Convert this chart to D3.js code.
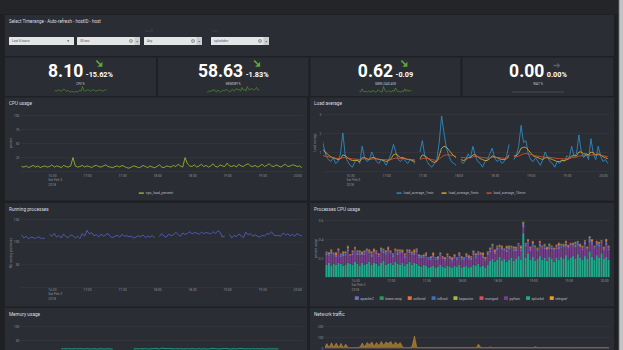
<!DOCTYPE html>
<html><head><meta charset="utf-8">
<script src="https://cdn.jsdelivr.net/npm/d3@7/dist/d3.min.js"></script>
<style>
html,body{margin:0;padding:0;background:#1e2024;overflow:hidden}
svg{display:block;font-family:Roboto,"Noto Sans",sans-serif}
</style></head><body>
<svg id="chart" width="623" height="350"></svg>
<script>
// ================= DATA =================
const templateTitle = "Select Timerange - Auto-refresh - hostID - host";
const dropdownLabels = ["", "", "hostID", "host"];
const dropdownValues = ["Last 6 hours", "30 sec", "Any", "splunkdev"];

const statNames  = ["CPU %", "MEMORY %", "5MIN LOAD AVG", "WAIT %"];
const statValues = ["8.10", "58.63", "0.62", "0.00"];
const statDeltas = ["-15.62%", "-1.83%", "-0.09", "0.00%"];
const statTrend  = ["down", "down", "down", "flat"];
const sparkCpu  = [8,9,8,10,9,8,9,11,9,8,9,8,7,8,7,7,8,7,8,9,8,14,9,8,9,10,9,8,9,10,9,8,9,9,10,9,8,9,10,9];
const sparkMem  = [57,58,57,59,58,60,58,57,59,58,57,58,59,58,60,59,58,57,59,60,58,59,61,59,60,58,62,59,60,58,63,60,59,61,60,59,60,62,59,60];
const sparkLoad = [0.9,0.6,1.9,0.7,0.6,0.8,0.5,1.0,0.6,0.5,1.3,0.6,0.5,0.7,1.5,0.9,0.6,0.5,2.9,1.2,0.7,0.6,1.1,0.6,0.5,1.3,0.7,2.3,1.0,0.6,0.8,0.5,1.0,0.6,1.9,0.8,1.5,0.7,1.3,0.8];
const sparkWait = [0,0,0,0,0,0,0,0,0,0,0,0,0,0,0,0,0,0,0,0,0,0,0,0,0,0,0,0,0,0,0,0,0,0,0,0,0,0,0,0];

const startTime = new Date(2018, 1, 3, 16, 4);
const stepMinutes = 2;
const xTickFormat = "%H:%M";
const dateLines = ["Sat Feb 3", "2018"];

const cpuLoadPercent = [
 8,7,9,6,8,10,7,9,6,8, 9,7,8,11,7,9,8,6,10,8, 7,9,24,9,7,8,10,7,9,8, 6,9,10,8,7,9,11,8,7,6,
 8,9,7,10,8,6,5,7,9,8, 6,7,10,8,6,9,7,6,8,11, 7,6,9,8,7,10,8,12,9,7, 24,13,9,8,11,7,9,12,8,10,
 7,9,13,8,7,11,9,8,14,9, 8,10,7,12,9,8,11,13,9,8, 10,7,9,12,8,10,13,9,8,11, 9,7,10,12,8,9,11,10,8,9, 6];

const loadAvg1 = [
 1.2,1.9,1.3,0.8,0.6,0.5,0.7,0.4,0.5,0.9, 2.0,0.8,0.5,0.3,0.2,0.5,0.6,0.4,1.3,0.7,
 0.5,0.6,1.0,0.7,0.5,0.4,0.6,0.5,0.3,0.6, 0.9,1.4,1.0,0.6,0.5,0.7,0.5,0.4,0.6,0.5,
 0.4,null,1.0,1.6,0.8,0.5,0.3,0.2,0.4,0.6, 1.5,2.9,2.0,1.2,0.8,0.5,0.4,0.3,null,0.5,
 0.4,0.6,0.9,0.7,1.3,0.8,0.5,0.4,0.2,0.5, 0.6,0.9,1.2,0.7,0.5,0.6,0.4,0.5,0.8,1.4,
 null,0.6,0.8,1.3,2.4,1.5,1.6,0.9,0.6,0.5, 0.7,0.5,0.3,0.6,1.0,0.7,0.5,0.4,0.2,0.5,
 0.4,0.6,0.5,0.8,0.7,1.3,0.8,0.9,1.9,1.0, 0.7,0.9,0.6,1.7,0.9,0.6,1.3,0.8,0.5,0.6, 0.4];
const loadAvg5 = [
 1.1,1.2,1.1,0.95,0.85,0.75,0.7,0.65,0.6,0.65, 0.85,0.8,0.7,0.6,0.55,0.55,0.55,0.5,0.7,0.7,
 0.65,0.6,0.7,0.7,0.65,0.6,0.6,0.55,0.5,0.55, 0.65,0.85,0.9,0.8,0.7,0.7,0.65,0.6,0.6,0.55,
 0.5,null,0.65,0.85,0.8,0.7,0.6,0.5,0.45,0.5, 0.8,1.2,1.3,1.25,1.1,0.95,0.8,0.7,null,0.6,
 0.55,0.6,0.7,0.7,0.85,0.85,0.75,0.65,0.6,0.55, 0.55,0.65,0.8,0.75,0.7,0.65,0.6,0.6,0.65,0.85,
 null,0.8,0.8,0.95,1.2,1.25,1.25,1.1,0.95,0.8, 0.75,0.7,0.65,0.6,0.7,0.7,0.65,0.6,0.55,0.5,
 0.5,0.55,0.55,0.6,0.65,0.8,0.8,0.8,1.0,1.0, 0.9,0.9,0.85,1.0,0.95,0.85,0.9,0.85,0.75,0.7, 0.65];
const loadAvg15 = [
 0.75,0.78,0.8,0.78,0.75,0.72,0.7,0.68,0.66,0.65, 0.7,0.7,0.68,0.66,0.64,0.62,0.62,0.6,0.63,0.64,
 0.63,0.62,0.63,0.64,0.63,0.62,0.61,0.6,0.59,0.58, 0.6,0.65,0.68,0.68,0.66,0.65,0.64,0.62,0.61,0.6,
 0.58,null,0.6,0.66,0.67,0.66,0.64,0.6,0.57,0.56, 0.62,0.75,0.82,0.85,0.85,0.83,0.8,0.77,null,0.72,
 0.7,0.69,0.7,0.7,0.74,0.76,0.75,0.73,0.71,0.69, 0.68,0.69,0.72,0.72,0.71,0.7,0.68,0.67,0.67,0.72,
 null,0.75,0.75,0.78,0.85,0.9,0.92,0.9,0.87,0.83, 0.8,0.78,0.76,0.73,0.73,0.73,0.72,0.7,0.68,0.66,
 0.65,0.64,0.64,0.65,0.66,0.7,0.72,0.73,0.78,0.8, 0.8,0.81,0.81,0.84,0.85,0.84,0.84,0.83,0.8,0.78, 0.76];

const runningProcs = [
 115,108,112,106,110,109,107,111,108,107, 108,null,116,112,118,110,114,108,117,111,
 109,115,113,108,112,107,118,112,125,117, 120,113,116,110,117,112,115,118,111,109,
 112,114,110,116,112,113,111,112,108,110, 113,111,115,109,112,110,114,108,null,111,
 118,112,110,117,113,115,121,116,112,119, 116,118,122,117,120,119,116,121,118,120,
 119,117,122,118,124,121,110,113,null,116, 108,114,111,117,113,109,121,115,118,112,
 115,112,110,114,112,118,116,122,115,113, 114,112,119,115,117,113,116,112,118,114, 113];

const procNames = ["apache2","beam.smp","collectd","influxd","kapacitor","mongod","python","splunkd","telegraf"];
const procSplunkd = [
 .14,.13,.15,.12,.14,.13,.15,.14,.12,.13, .15,.14,.13,.16,.14,.12,.15,.13,.14,.16,
 .13,.15,.14,.12,.15,.17,.13,.14,.15,.13, .16,.14,.13,.15,.12,.14,.16,.13,.15,.14,
 .12,.11,.13,.12,.10,.11,.12,.10,.11,.13, .11,.10,.12,.11,.10,.12,.11,.13,.10,.11,
 .12,.10,.11,.13,.12,.14,.11,.12,.10,.13, .17,.19,.16,.18,.21,.17,.19,.16,.18,.20,
 .17,.19,.22,.18,.46,.20,.25,.18,.21,.17, .19,.22,.18,.20,.17,.21,.19,.16,.20,.18,
 .21,.19,.23,.18,.20,.22,.19,.24,.20,.18, .22,.19,.27,.21,.18,.23,.20,.25,.19,.21, .18];
const procPython = [
 .08,.10,.07,.12,.09,.08,.11,.07,.10,.09, .12,.08,.10,.13,.09,.11,.08,.10,.12,.09,
 .08,.11,.10,.09,.12,.08,.10,.13,.09,.08, .11,.09,.12,.10,.08,.11,.09,.10,.08,.12,
 .08,.09,.07,.10,.08,.07,.09,.08,.07,.09, .08,.07,.09,.08,.06,.08,.07,.09,.08,.07,
 .09,.08,.07,.10,.08,.09,.12,.08,.07,.10, .09,.11,.08,.10,.09,.12,.08,.10,.11,.09,
 .10,.08,.11,.09,.06,.12,.10,.09,.11,.13, .08,.10,.12,.09,.11,.08,.10,.12,.09,.11,
 .10,.12,.09,.11,.13,.10,.12,.09,.11,.10, .12,.10,.09,.13,.11,.10,.12,.11,.09,.12, .10];
const procApache2 = [
 .01,.02,.01,.03,.01,.02,.01,.02,.03,.01,.02,.01,.02,.01,.03,.02,.01,.02,.01,.02,
 .03,.01,.02,.01,.02,.03,.01,.02,.01,.02,.01,.03,.02,.01,.02,.01,.02,.01,.03,.02,
 .01,.02,.01,.02,.01,.01,.02,.01,.02,.01,.02,.01,.01,.02,.01,.02,.01,.02,.01,.01,
 .02,.01,.02,.03,.01,.02,.01,.02,.01,.03,.02,.01,.02,.03,.01,.02,.01,.03,.02,.01,
 .02,.03,.01,.02,.04,.02,.01,.03,.02,.01,.02,.03,.01,.02,.01,.03,.02,.01,.02,.03,
 .01,.02,.03,.01,.02,.01,.03,.02,.01,.02,.03,.01,.04,.02,.01,.03,.02,.01,.02,.03, .02];
const procCollectd = [
 .01,.00,.01,.01,.00,.02,.01,.00,.01,.01,.02,.00,.01,.01,.00,.01,.02,.01,.00,.01,
 .01,.02,.00,.01,.01,.00,.01,.02,.01,.00,.01,.01,.00,.02,.01,.00,.01,.01,.02,.00,
 .01,.00,.01,.01,.00,.01,.02,.00,.01,.01,.00,.01,.01,.00,.02,.01,.00,.01,.01,.00,
 .01,.02,.00,.01,.01,.00,.01,.02,.01,.00,.01,.01,.02,.00,.01,.01,.00,.02,.01,.00,
 .01,.01,.00,.02,.01,.00,.01,.01,.02,.00,.01,.01,.00,.01,.02,.01,.00,.01,.01,.02,
 .00,.01,.01,.02,.00,.01,.01,.00,.02,.01,.00,.01,.01,.02,.00,.01,.01,.00,.01,.02, .01];
const procInfluxd = [
 .00,.01,.01,.00,.01,.00,.01,.01,.00,.02,.01,.00,.01,.00,.01,.01,.00,.01,.02,.00,
 .01,.00,.01,.01,.00,.01,.02,.00,.01,.01,.00,.01,.01,.00,.01,.02,.00,.01,.00,.01,
 .01,.00,.01,.00,.01,.01,.00,.01,.00,.01,.00,.01,.01,.00,.01,.00,.01,.00,.01,.01,
 .00,.01,.01,.00,.02,.01,.00,.01,.01,.00,.01,.02,.00,.01,.01,.00,.01,.01,.00,.02,
 .01,.00,.01,.01,.00,.01,.02,.00,.01,.01,.00,.01,.01,.02,.00,.01,.01,.00,.01,.01,
 .02,.00,.01,.01,.00,.01,.01,.02,.00,.01,.01,.00,.01,.01,.02,.00,.01,.01,.00,.01, .01];
const procTelegraf = [
 .005,.004,.006,.005,.004,.005,.006,.004,.005,.005,.004,.006,.005,.004,.005,.006,.005,.004,.005,.006,
 .005,.004,.006,.005,.004,.005,.006,.004,.005,.005,.004,.006,.005,.004,.005,.006,.005,.004,.005,.006,
 .004,.005,.004,.005,.004,.004,.005,.004,.005,.004,.005,.004,.004,.005,.004,.005,.004,.005,.004,.004,
 .005,.006,.005,.004,.005,.006,.005,.004,.006,.005,.005,.004,.006,.005,.004,.005,.006,.004,.005,.005,
 .006,.005,.004,.005,.006,.005,.004,.006,.005,.005,.004,.006,.005,.004,.005,.006,.005,.004,.005,.006,
 .005,.004,.006,.005,.004,.005,.006,.004,.005,.005,.004,.006,.005,.004,.005,.006,.005,.004,.005,.006, .005];
const procBeamSmp = [
 .002,.002,.001,.002,.002,.001,.002,.002,.001,.002,.002,.001,.002,.002,.001,.002,.002,.001,.002,.002,
 .001,.002,.002,.001,.002,.002,.001,.002,.002,.001,.002,.002,.001,.002,.002,.001,.002,.002,.001,.002,
 .002,.001,.002,.002,.001,.002,.002,.001,.002,.002,.001,.002,.002,.001,.002,.002,.001,.002,.002,.001,
 .002,.002,.001,.002,.002,.001,.002,.002,.001,.002,.002,.001,.002,.002,.001,.002,.002,.001,.002,.002,
 .001,.002,.002,.001,.002,.002,.001,.002,.002,.001,.002,.002,.001,.002,.002,.001,.002,.002,.001,.002,
 .002,.001,.002,.002,.001,.002,.002,.001,.002,.002,.001,.002,.002,.001,.002,.002,.001,.002,.002,.001, .002];
const procKapacitor = [
 .001,.001,.002,.001,.001,.002,.001,.001,.002,.001,.001,.002,.001,.001,.002,.001,.001,.002,.001,.001,
 .002,.001,.001,.002,.001,.001,.002,.001,.001,.002,.001,.001,.002,.001,.001,.002,.001,.001,.002,.001,
 .001,.002,.001,.001,.002,.001,.001,.002,.001,.001,.002,.001,.001,.002,.001,.001,.002,.001,.001,.002,
 .001,.001,.002,.001,.001,.002,.001,.001,.002,.001,.001,.002,.001,.001,.002,.001,.001,.002,.001,.001,
 .002,.001,.001,.002,.001,.001,.002,.001,.001,.002,.001,.001,.002,.001,.001,.002,.001,.001,.002,.001,
 .001,.002,.001,.001,.002,.001,.001,.002,.001,.001,.002,.001,.001,.002,.001,.001,.002,.001,.001,.002, .001];
const procMongod = [
 .003,.002,.003,.003,.002,.003,.003,.002,.003,.003,.002,.003,.003,.002,.003,.003,.002,.003,.003,.002,
 .003,.003,.002,.003,.003,.002,.003,.003,.002,.003,.003,.002,.003,.003,.002,.003,.003,.002,.003,.003,
 .002,.003,.003,.002,.003,.003,.002,.003,.003,.002,.003,.003,.002,.003,.003,.002,.003,.003,.002,.003,
 .003,.002,.003,.003,.002,.003,.003,.002,.003,.003,.002,.003,.003,.002,.003,.003,.002,.003,.003,.002,
 .003,.003,.002,.003,.003,.002,.003,.003,.002,.003,.003,.002,.003,.003,.002,.003,.003,.002,.003,.003,
 .002,.003,.003,.002,.003,.003,.002,.003,.003,.002,.003,.003,.002,.003,.003,.002,.003,.003,.002,.003, .003];

const memUsed = [
 18,null,null,null,null,null,null,null,null,null, null,null,null,null,null,null,null,18,19,18,
 19,18,18,19,18,19,18,18,19,18, 18,19,18,18,19,18,18,19,18,18, null,null,null,null,null,null,null,null,18,19,
 18,19,18,19,18,18,19,20,19,18, 21,20,19,20,19,18,19,18,19,18, 18,19,18,19,18,18,19,18,19,18,
 18,19,20,19,18,18,19,20,19,18, 18,19,18,19,20,19,18,19,18,19, 18,19,18,19,18,18,19,18,19,18, 18];
const netIn = [
 2,40,5,48,6,45,4,42,3,35, 2,1,2,2,3,10,45,8,50,30, 55,15,50,20,60,25,55,40,60,20,
 55,30,50,10,3,2,2,15,110,5, 3,2,3,2,2,3,2,2,3,2,2,3,2,2,3,2,2,2,3,2,
 3,2,2,3,2,35,5,2,2,3,10,3,2,2,3,2,2,3,2,2, 3,2,2,3,2,2,3,2,2,12,2,2,3,2,2,3,2,2,3,2,
 2,3,2,2,3,2,2,3,2,2,3,2,2,3,2,2,3,2,2,3, 2];
const netOut = [
 1,2,1,2,1,2,1,2,1,2,1,2,1,2,1,2,1,2,1,2, 2,1,2,1,2,1,2,1,2,1,2,1,2,1,2,1,2,1,3,1,
 1,2,1,2,1,2,1,2,1,2,1,2,1,2,1,2,1,2,1,2, 2,1,2,1,2,2,1,2,1,2,1,2,1,2,1,2,1,2,1,2,
 1,2,1,2,1,2,1,2,1,2,1,2,1,2,1,2,1,2,1,2, 2,1,2,1,2,1,2,1,2,1,2,1,2,1,2,1,2,1,2,1, 1];

// ================= STYLE =================
const COL = {
  bg: "#1e2024", top: "#232529", panel: "#2a2d34", title: "#dcdde0",
  tick: "#8d9096", grid: "#3a3d45", legend: "#b9bbbf"
};
const FONT = 'Roboto, "Noto Sans", sans-serif';
const procColors = {apache2:"#7d6bbd","beam.smp":"#2f9a57",collectd:"#e8743b",influxd:"#3c6fbe",
  kapacitor:"#a5c23a",mongod:"#d94f5c",python:"#7a3f8c",splunkd:"#22a98c",telegraf:"#f0a020"};
const procSeries = {apache2:procApache2,"beam.smp":procBeamSmp,collectd:procCollectd,influxd:procInfluxd,
  kapacitor:procKapacitor,mongod:procMongod,python:procPython,splunkd:procSplunkd,telegraf:procTelegraf};
const stackOrder = ["splunkd","python","apache2","influxd","collectd","telegraf","beam.smp","kapacitor","mongod"];

const svg = d3.select("#chart");
const times = cpuLoadPercent.map((_, i) => d3.timeMinute.offset(startTime, i * stepMinutes));
const series = arr => arr.map((v, i) => ({t: times[i], v}));
const at = (h, m, s) => new Date(2018, 1, 3, h, m, s || 0);

// ================= BACKGROUND =================
svg.append("rect").attr("width", 623).attr("height", 350).attr("fill", COL.bg);
svg.append("rect").attr("width", 623).attr("height", 14).attr("fill", COL.top);
svg.append("rect").attr("x", 619).attr("width", 4).attr("height", 350).attr("fill", "#c2c3c5");
svg.append("rect").attr("x", 618.6).attr("width", 0.8).attr("height", 350).attr("fill", "#6f7176");

function panel(x, y, w, h, title) {
  svg.append("rect").attr("x", x).attr("y", y).attr("width", w).attr("height", h).attr("fill", COL.panel);
  if (title) svg.append("text").attr("x", x + 4).attr("y", y + 7.5).attr("font-size", 4.7)
    .attr("font-family", FONT).attr("fill", COL.title).text(title);
}

// ================= TEMPLATE ROW =================
panel(5, 15, 609, 41, null);
svg.append("text").attr("x", 9).attr("y", 23).attr("font-size", 4.5).attr("font-family", FONT)
  .attr("fill", COL.title).text(templateTitle);
const ddBoxes = [[9, 74], [77, 140], [144, 202], [211, 269]];
ddBoxes.forEach(([a, b], i) => {
  if (dropdownLabels[i]) svg.append("text").attr("x", a + 1).attr("y", 32).attr("font-size", 2.8)
    .attr("font-family", FONT).attr("fill", "#444851").text(dropdownLabels[i]);
  svg.append("rect").attr("x", a).attr("y", 37).attr("width", b - a).attr("height", 8)
    .attr("fill", "#e4e5e7").attr("rx", 0.6);
  svg.append("text").attr("x", a + 3).attr("y", 42.2).attr("font-size", 3.2).attr("font-family", FONT)
    .attr("fill", "#50535a").text(dropdownValues[i]);
  if (i === 0) {
    svg.append("path").attr("d", `M${b-7},40.3 l2.4,0 l-1.2,1.6z`).attr("fill", "#666");
  } else {
    svg.append("rect").attr("x", b - 5.5).attr("y", 37).attr("width", 5.5).attr("height", 8).attr("fill", "#cdced1");
    svg.append("path").attr("d", `M${b-3.9},41 l2.2,0 l-1.1,1.4z`).attr("fill", "#777");
    svg.append("circle").attr("cx", b - 9).attr("cy", 41).attr("r", 1.6).attr("fill", "none")
      .attr("stroke", "#777").attr("stroke-width", 0.6);
    svg.append("path").attr("d", `M${b-9.7},40.3 l1.4,1.4 M${b-8.3},40.3 l-1.4,1.4`)
      .attr("stroke", "#777").attr("stroke-width", 0.5);
  }
});

// ================= STAT ROW =================
const statBoxes = [[5, 156], [158, 308.5], [310.5, 460.5], [462.5, 613.5]];
const sparks = [sparkCpu, sparkMem, sparkLoad, sparkWait];
statBoxes.forEach(([x0, x1], i) => {
  panel(x0, 57.5, x1 - x0, 38.5, null);
  const cx = (x0 + x1) / 2;
  const big = svg.append("text").attr("y", 77).attr("font-size", 17.5).attr("font-weight", 700)
    .attr("font-family", FONT).attr("fill", "#ffffff").text(statValues[i]);
  const dl = svg.append("text").attr("y", 76.5).attr("font-size", 7.3).attr("font-weight", 700)
    .attr("font-family", FONT).attr("fill", "#ffffff").text(statDeltas[i]);
  const bw = big.node().getComputedTextLength(), dw = dl.node().getComputedTextLength();
  const gap = 2.5, start = cx - (bw + gap + dw) / 2;
  big.attr("x", start);
  dl.attr("x", start + bw + gap);
  const ax = start + bw + gap + dw / 2;
  if (statTrend[i] === "down") {
    svg.append("path").attr("d", `M${ax-3},60.6 L${ax+1.2},64.8`).attr("stroke", "#5da934").attr("stroke-width", 1.6);
    svg.append("path").attr("d", `M${ax+3},66.8 L${ax+3},61.8 L${ax-2},66.8 Z`).attr("fill", "#5da934");
  } else {
    svg.append("path").attr("d", `M${ax-3.5},65.5 L${ax+1},65.5`).attr("stroke", "#5a5e66").attr("stroke-width", 1.4);
    svg.append("path").attr("d", `M${ax+3.5},65.5 L${ax+0.5},62.8 L${ax+0.5},68.2 Z`).attr("fill", "#5a5e66");
  }
  svg.append("text").attr("x", cx).attr("y", 84.6).attr("text-anchor", "middle").attr("font-size", 2.9)
    .attr("font-family", FONT).attr("fill", "#c5c7cb").text(statNames[i]);
  const arr = sparks[i];
  const sx = d3.scaleLinear().domain([0, arr.length - 1]).range([cx - 26, cx + 26]);
  const ext = d3.extent(arr);
  const sy = d3.scaleLinear().domain(ext[0] === ext[1] ? [ext[0], ext[0] + 1] : ext).range([92, 86.5]);
  svg.append("path").datum(arr).attr("fill", "none")
    .attr("stroke", statTrend[i] === "flat" ? "#5f6369" : "#55a02e").attr("stroke-width", 0.6)
    .attr("d", d3.line().x((d, j) => sx(j)).y(d => sy(d)));
});

// ================= TIME CHART HELPER =================
let clipN = 0;
function timeChart(o) {
  const x = d3.scaleTime().domain(o.xDomain).range(o.xRange);
  const y = d3.scaleLinear().domain(o.yDomain).range(o.yRange);
  const g = svg.append("g");
  const ya = g.append("g").attr("transform", `translate(${o.xRange[0]},0)`)
    .call(d3.axisLeft(y).tickValues(o.yTicks).tickSize(-(o.xRange[1] - o.xRange[0])).tickPadding(1.6)
      .tickFormat(o.yFormat));
  ya.select(".domain").remove();
  ya.selectAll("line").attr("stroke", COL.grid).attr("stroke-width", 0.5);
  ya.selectAll("text").attr("fill", COL.tick).attr("font-size", 3.3).attr("font-family", FONT);
  if (o.xAxisY != null) {
    const xa = g.append("g").attr("transform", `translate(0,${o.xAxisY})`)
      .call(d3.axisBottom(x).ticks(d3.timeMinute.every(30)).tickSize(0).tickPadding(0)
        .tickFormat(d3.timeFormat(xTickFormat)));
    xa.select(".domain").remove();
    xa.selectAll("text").attr("fill", COL.tick).attr("font-size", 3.3).attr("font-family", FONT);
    const first = xa.select(".tick text");
    const hw = first.node().getComputedTextLength() / 2;
    dateLines.forEach((s, k) => {
      first.append("tspan").attr("x", -hw).attr("text-anchor", "start")
        .attr("dy", "1.4em").text(s);
    });
  }
  if (o.yLabel) {
    g.append("text").attr("transform", `translate(${o.yLabelX},${(o.yRange[0] + o.yRange[1]) / 2}) rotate(-90)`)
      .attr("text-anchor", "middle").attr("font-size", 3.1).attr("font-family", FONT)
      .attr("fill", COL.tick).text(o.yLabel);
  }
  const id = "clip" + (clipN++);
  svg.append("clipPath").attr("id", id).append("rect").attr("x", o.xRange[0]).attr("y", o.yRange[1] - 6)
    .attr("width", o.xRange[1] - o.xRange[0]).attr("height", o.yRange[0] - o.yRange[1] + 6.5);
  const plot = g.append("g").attr("clip-path", `url(#${id})`);
  return {x, y, plot};
}
function drawLine(c, arr, color, w) {
  c.plot.append("path").datum(series(arr)).attr("fill", "none").attr("stroke", color)
    .attr("stroke-width", w || 0.7).attr("stroke-linejoin", "round")
    .attr("d", d3.line().defined(d => d.v != null).x(d => c.x(d.t)).y(d => c.y(d.v)));
}
function lineLegend(items, cx, y) {
  const g = svg.append("g");
  let xx = 0;
  items.forEach(([name, color]) => {
    g.append("line").attr("x1", xx).attr("x2", xx + 5).attr("y1", y - 1.2).attr("y2", y - 1.2)
      .attr("stroke", color).attr("stroke-width", 1.3);
    const t = g.append("text").attr("x", xx + 7).attr("y", y).attr("font-size", 3.5).attr("font-family", FONT)
      .attr("fill", COL.legend).text(name);
    xx += 7 + t.node().getComputedTextLength() + 8;
  });
  g.attr("transform", `translate(${cx - (xx - 8) / 2},0)`);
}

// ================= CPU USAGE =================
panel(5, 97.5, 302, 103, "CPU usage");
const cpuC = timeChart({xDomain: [at(16, 3, 30), at(20, 5)], xRange: [21, 303], yDomain: [0, 100],
  yRange: [171, 115], yTicks: [0, 25, 50, 75, 100], yFormat: d => d === 0 ? "" : d, xAxisY: 174.5,
  yLabel: "percent", yLabelX: 11.5});
drawLine(cpuC, cpuLoadPercent, "#a4c234", 0.8);
lineLegend([["cpu_load_percent", "#a4c234"]], 156, 194.3);

// ================= LOAD AVERAGE =================
panel(310, 97.5, 304, 103, "Load average");
const loadC = timeChart({xDomain: [at(16, 7, 30), at(20, 5)], xRange: [323, 609], yDomain: [0, 3],
  yRange: [171, 114], yTicks: [0, 1, 2, 3], yFormat: d => d === 0 ? "" : d, xAxisY: 174.3,
  yLabel: "Load average", yLabelX: 316});
drawLine(loadC, loadAvg1, "#2f95d6", 0.8);
drawLine(loadC, loadAvg5, "#e8b82a", 0.8);
drawLine(loadC, loadAvg15, "#e2572f", 0.8);
lineLegend([["load_average_1min", "#2f95d6"], ["load_average_5min", "#e8b82a"], ["load_average_15min", "#e2572f"]], 461, 194.3);

// ================= RUNNING PROCESSES =================
panel(5, 203, 302, 103.5, "Running processes");
const runC = timeChart({xDomain: [at(16, 3, 30), at(20, 5)], xRange: [21, 303], yDomain: [0, 150],
  yRange: [287, 219], yTicks: [0, 50, 100, 150], yFormat: d => d === 0 ? "" : d, xAxisY: 288.3,
  yLabel: "Nb running processes", yLabelX: 11.5});
drawLine(runC, runningProcs, "#5865c8", 0.8);

// ================= PROCESSES CPU USAGE =================
panel(310, 203, 304, 103.5, "Processes CPU usage");
const procC = timeChart({xDomain: [at(16, 4, 30), at(20, 5)], xRange: [325, 610], yDomain: [0, 0.6],
  yRange: [277, 220], yTicks: [0, 0.2, 0.4, 0.6], yFormat: d => d === 0 ? "" : d3.format(".1f")(d),
  xAxisY: 279.3, yLabel: "percent usage", yLabelX: 316.5});
const procTable = times.map((t, i) => {
  const r = {t};
  procNames.forEach(k => r[k] = procSeries[k][i]);
  return r;
});
const stacked = d3.stack().keys(stackOrder)(procTable);
const bw = procC.x(times[1]) - procC.x(times[0]);
procC.plot.selectAll("g.layer").data(stacked).join("g").attr("class", "layer")
  .attr("fill", d => procColors[d.key])
  .selectAll("rect").data(d => d).join("rect")
  .attr("x", d => procC.x(d.data.t) - bw / 2).attr("width", bw * 0.82)
  .attr("y", d => procC.y(d[1])).attr("height", d => Math.max(0, procC.y(d[0]) - procC.y(d[1])));
(function () {
  const g = svg.append("g");
  let xx = 0;
  procNames.forEach(name => {
    g.append("rect").attr("x", xx).attr("y", 296.3).attr("width", 4).attr("height", 3.6)
      .attr("fill", procColors[name]);
    const t = g.append("text").attr("x", xx + 5.5).attr("y", 299.6).attr("font-size", 3.5)
      .attr("font-family", FONT).attr("fill", COL.legend).text(name);
    xx += 5.5 + t.node().getComputedTextLength() + 6;
  });
  g.attr("transform", `translate(${461 - (xx - 6) / 2},0)`);
})();

// ================= MEMORY USAGE =================
panel(5, 308, 302, 50, "Memory usage");
const memC = timeChart({xDomain: [at(16, 3, 30), at(20, 5)], xRange: [21, 303], yDomain: [0, 100],
  yRange: [354, 326], yTicks: [50, 100], yFormat: d => d, xAxisY: null});
drawLine(memC, memUsed, "#1fa88b", 0.9);

// ================= NETWORK TRAFFIC =================
panel(310, 308, 304, 50, "Network traffic");
const netC = timeChart({xDomain: [at(16, 4, 30), at(20, 5)], xRange: [325, 610], yDomain: [0, 200],
  yRange: [348, 326], yTicks: [0, 100, 200], yFormat: d => d, xAxisY: null});
netC.plot.append("path").datum(series(netIn)).attr("fill", "#b5852c").attr("fill-opacity", 0.75)
  .attr("stroke", "#c99432").attr("stroke-width", 0.5)
  .attr("d", d3.area().x(d => netC.x(d.t)).y0(netC.y(0)).y1(d => netC.y(d.v)));
drawLine(netC, netOut, "#7a4a9a", 0.9);
</script>
</body></html>
